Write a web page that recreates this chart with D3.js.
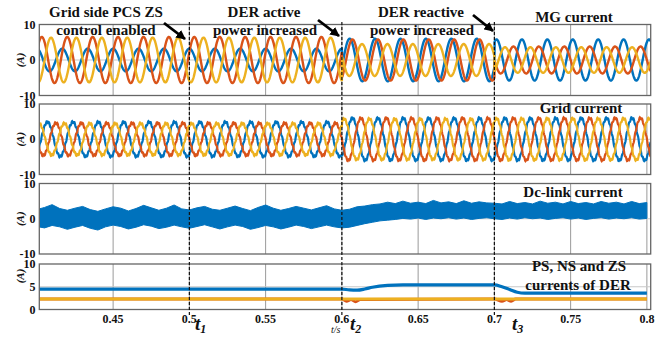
<!DOCTYPE html>
<html>
<head>
<meta charset="utf-8">
<script src="https://cdn.jsdelivr.net/npm/d3@7"></script>
<style>
    body { margin: 0; background: #fff; }
    svg text { font-family: "Liberation Serif", "Times New Roman", serif; font-weight: bold; fill: #111; }
</style>
</head>
<body>
<svg id="chart" width="671" height="337"></svg>
<script>
// ---- data ----
const xTicks = [0.45, 0.5, 0.55, 0.6, 0.65, 0.7, 0.75, 0.8];
const xTickLabels = ['0.45', '0.5', '0.55', '0.6', '0.65', '0.7', '0.75', '0.8'];
const eventTimes = [0.5, 0.6, 0.7];

// three-phase waveforms: 60 Hz, piecewise amplitude / phase per interval
const freq = 60;
const segBounds = [0.4, 0.6, 0.7, 0.8];
const phaseColors = ['#0072BD', '#D95319', '#EDB120'];

const mgAmp = [[3.2, 6.0, 5.8], [6.5, 5.8, 3.8], [6.3, 4.5, 3.6]];
const mgPhase = [[0, 110, 30], [70, 150, 270], [200, 285, 150]];

const gridAmp = [[4.9, 6.0, 6.0], [4.6, 6.0, 6.0], [4.5, 5.8, 5.9]];
const gridPhase = [[150, 150, 150], [270, 270, 270], [30, 30, 30]];
const gridRipple = [0.3, 0.3, 0.3];

// dc-link current envelope, every 5 ms from 0.400 to 0.800
const dcUpper = [2.6, 3.2, 4.0, 2.9, 2.4, 3.0, 3.5, 2.6, 2.1, 2.8, 3.4, 3.0, 2.2, 2.9, 3.8, 3.1, 2.4, 3.0, 3.9, 2.8,
    2.5, 3.1, 3.5, 2.7, 2.4, 3.0, 3.6, 2.9, 2.3, 3.2, 3.9, 3.0, 2.4, 2.9, 3.5, 3.0, 2.5, 3.1, 3.7, 2.8,
    2.4, 2.7, 3.4, 3.6, 4.0, 4.2, 4.7, 4.3, 5.0, 4.4, 4.7, 4.3, 5.2, 4.5, 4.8, 4.3, 5.1, 4.4, 4.8, 4.5,
    4.4, 4.2, 4.9, 4.3, 4.6, 4.2, 5.0, 4.4, 4.7, 4.2, 4.9, 4.3, 4.6, 4.2, 4.9, 4.4, 4.7, 4.2, 4.9, 4.3, 4.6];
const dcLower = [-2.2, -2.6, -1.9, -2.3, -3.0, -2.4, -1.9, -2.7, -3.2, -2.3, -1.8, -2.2, -2.9, -2.4, -1.7, -2.1, -2.8, -2.4, -1.8, -2.3,
    -2.7, -2.2, -1.7, -2.3, -2.9, -2.3, -1.8, -2.2, -3.0, -2.5, -1.9, -2.3, -2.9, -2.4, -1.8, -2.2, -2.8, -2.3, -1.8, -2.3,
    -2.6, -2.4, -1.9, -1.4, -1.0, -0.6, -0.4, -0.2, 0.1, -0.1, 0.2, -0.2, 0.2, 0.0, 0.3, -0.1, 0.2, -0.2, 0.1, 0.3,
    0.0, -0.2, 0.2, -0.1, 0.3, 0.0, 0.2, -0.2, 0.1, 0.3, -0.1, 0.2, -0.2, 0.1, 0.3, -0.1, 0.2, 0.0, 0.3, -0.1, 0.1];

// PS / NS / ZS currents of DER
const psTime = [0.4, 0.6, 0.605, 0.61, 0.615, 0.62, 0.63, 0.64, 0.7, 0.705, 0.71, 0.715, 0.72, 0.8];
const psValue = [4.5, 4.5, 4.3, 4.25, 4.5, 4.9, 5.3, 5.4, 5.4, 5.0, 4.4, 3.8, 3.6, 3.6];
const nsTime = [0.4, 0.6, 0.603, 0.606, 0.609, 0.612, 0.7, 0.705, 0.708, 0.711, 0.714, 0.8];
const nsValue = [2.3, 2.3, 1.8, 2.2, 1.7, 2.2, 2.3, 1.8, 2.2, 1.8, 2.3, 2.3];
const zsTime = [0.4, 0.8];
const zsValue = [2.3, 2.3];

// ---- layout ----
const svg = d3.select('#chart');
const x = d3.scaleLinear().domain([0.4016, 0.8025]).range([39.3, 650.7]);

const panels = [
    {top: 24.5, bottom: 95.5, domain: [-10, 10], ticks: [10, 0, -10]},
    {top: 104, bottom: 174.5, domain: [-10, 10], ticks: [10, 0, -10]},
    {top: 183.5, bottom: 254, domain: [-10, 10], ticks: [10, 0, -10]},
    {top: 264, bottom: 309.5, domain: [0, 10], ticks: [10, 5, 0]}
];
panels.forEach(p => p.y = d3.scaleLinear().domain(p.domain).range([p.bottom, p.top]));

let defs = svg.append('defs');
panels.forEach((p, i) => {
    defs.append('clipPath').attr('id', `clip${i}`)
        .append('rect')
            .attr('x', x.range()[0]).attr('y', p.top)
            .attr('width', x.range()[1] - x.range()[0])
            .attr('height', p.bottom - p.top);
});
defs.append('marker')
    .attr('id', 'arrow')
    .attr('viewBox', '0 0 10 10')
    .attr('refX', 9).attr('refY', 5)
    .attr('markerWidth', 3.4).attr('markerHeight', 3.4)
    .attr('orient', 'auto')
    .append('path')
        .attr('d', 'M0,0 L10,5 L0,10 z')
        .attr('fill', '#000');

// sample a three-phase waveform
function threePhase(amp, phase, ripple) {
    let series = [[], [], []];
    for (let t = 0.4; t <= 0.8026; t += 0.0002) {
        let s = t < segBounds[1] ? 0 : (t < segBounds[2] ? 1 : 2);
        let w = 2 * Math.PI * freq * (t - 0.4);
        for (let k = 0; k < 3; k++) {
            let v = amp[k][s] * Math.cos(w - phase[k][s] * Math.PI / 180);
            if (ripple) v += ripple[s] * Math.sin(11 * w + k * 2.1);
            series[k].push([t, v]);
        }
    }
    return series;
}

// frames and grid
panels.forEach((p, i) => {
    let g = svg.append('g').attr('class', `panel${i}`);

    g.selectAll('line.vgrid')
        .data(xTicks)
        .join('line')
            .attr('class', 'vgrid')
            .attr('x1', d => x(d)).attr('x2', d => x(d))
            .attr('y1', p.top).attr('y2', p.bottom)
            .attr('stroke', '#9a9a9a').attr('stroke-width', 1);

    let hLine = i < 3 ? 0 : 5;
    g.append('line')
        .attr('x1', x.range()[0]).attr('x2', x.range()[1])
        .attr('y1', p.y(hLine)).attr('y2', p.y(hLine))
        .attr('stroke', '#c8c8c8').attr('stroke-width', 1);

    g.selectAll('text.ytick')
        .data(p.ticks)
        .join('text')
            .attr('class', 'ytick')
            .attr('x', 35.5)
            .attr('y', d => p.y(d) + 4)
            .attr('text-anchor', 'end')
            .style('font-size', '12px')
            .text(d => d);

    g.append('text')
        .attr('transform', `translate(24, ${i < 3 ? (p.top + p.bottom) / 2 : 276}) rotate(-90)`)
        .attr('text-anchor', 'middle')
        .style('font-size', '11px')
        .style('font-style', 'italic')
        .text('(A)');
});

let line = d3.line().x(d => x(d[0]));

// panel 1: MG current
let mg = threePhase(mgAmp, mgPhase, null);
svg.append('g').attr('clip-path', 'url(#clip0)')
    .selectAll('path')
    .data(mg)
    .join('path')
        .attr('d', d => line.y(v => panels[0].y(v[1]))(d))
        .attr('fill', 'none')
        .attr('stroke', (d, k) => phaseColors[k])
        .attr('stroke-width', 2.4);

// panel 2: grid current
let grid = threePhase(gridAmp, gridPhase, gridRipple);
svg.append('g').attr('clip-path', 'url(#clip1)')
    .selectAll('path')
    .data(grid)
    .join('path')
        .attr('d', d => line.y(v => panels[1].y(v[1]))(d))
        .attr('fill', 'none')
        .attr('stroke', (d, k) => phaseColors[k])
        .attr('stroke-width', 2.2);

// panel 3: dc-link current band
let dcData = dcUpper.map((u, j) => ({t: 0.4 + j * 0.005, hi: u, lo: dcLower[j]}));
svg.append('g').attr('clip-path', 'url(#clip2)')
    .append('path')
        .datum(dcData)
        .attr('d', d3.area()
            .x(d => x(d.t))
            .y0(d => panels[2].y(d.lo))
            .y1(d => panels[2].y(d.hi)))
        .attr('fill', '#0072BD')
        .attr('stroke', '#0072BD')
        .attr('stroke-width', 1);

// panel 4: sequence currents
let seq = [
    {t: nsTime, v: nsValue, c: phaseColors[1], w: 3},
    {t: zsTime, v: zsValue, c: phaseColors[2], w: 3},
    {t: psTime, v: psValue, c: phaseColors[0], w: 3.2}
];
svg.append('g').attr('clip-path', 'url(#clip3)')
    .selectAll('path')
    .data(seq)
    .join('path')
        .attr('d', s => d3.line().curve(d3.curveMonotoneX)
            .x((t, j) => x(t)).y((t, j) => panels[3].y(s.v[j]))(s.t))
        .attr('fill', 'none')
        .attr('stroke', s => s.c)
        .attr('stroke-width', s => s.w);

// frames on top
panels.forEach(p => {
    svg.append('rect')
        .attr('x', x.range()[0]).attr('y', p.top)
        .attr('width', x.range()[1] - x.range()[0])
        .attr('height', p.bottom - p.top)
        .attr('fill', 'none')
        .attr('stroke', '#666').attr('stroke-width', 1.3);
});

// event lines
svg.selectAll('line.event')
    .data(eventTimes)
    .join('line')
        .attr('class', 'event')
        .attr('x1', d => x(d)).attr('x2', d => x(d))
        .attr('y1', 22).attr('y2', 315)
        .attr('stroke', '#111')
        .attr('stroke-width', 1.2)
        .attr('stroke-dasharray', '3,2');

// x tick labels
svg.selectAll('text.xtick')
    .data(xTicks)
    .join('text')
        .attr('class', 'xtick')
        .attr('x', d => x(d))
        .attr('y', 323)
        .attr('text-anchor', 'middle')
        .style('font-size', '12px')
        .text((d, i) => xTickLabels[i]);

// t1, t2, t3 markers
const tMarks = [{x: 195, y: 330, s: '1'}, {x: 350, y: 330, s: '2'}, {x: 512, y: 330, s: '3'}];
tMarks.forEach(m => {
    let t = svg.append('text')
        .attr('x', m.x).attr('y', m.y)
        .style('font-size', '19px')
        .style('font-style', 'italic');
    t.append('tspan').text('t');
    t.append('tspan').attr('dy', 3).style('font-size', '12px').text(m.s);
});
svg.append('text')
    .attr('x', 331).attr('y', 333)
    .style('font-size', '10px')
    .style('font-style', 'italic')
    .style('font-weight', 'normal')
    .text('t/s');

// annotations
const notes = [
    {x: 106, y: 17, s: 'Grid side PCS ZS'},
    {x: 106, y: 34.5, s: 'control enabled'},
    {x: 264, y: 17, s: 'DER active'},
    {x: 265, y: 34.5, s: 'power increased'},
    {x: 421, y: 17, s: 'DER reactive'},
    {x: 422, y: 34.5, s: 'power increased'},
    {x: 574, y: 22, s: 'MG current'},
    {x: 581, y: 113, s: 'Grid current'},
    {x: 573, y: 197, s: 'Dc-link current'},
    {x: 579, y: 271, s: 'PS, NS and ZS'},
    {x: 578, y: 290, s: 'currents of DER'}
];
svg.selectAll('text.note')
    .data(notes)
    .join('text')
        .attr('class', 'note')
        .attr('x', d => d.x).attr('y', d => d.y)
        .attr('text-anchor', 'middle')
        .style('font-size', '15px')
        .text(d => d.s);

const arrows = [
    {x1: 164, y1: 23, x2: 185, y2: 39},
    {x1: 318, y1: 20, x2: 339, y2: 36},
    {x1: 473, y1: 15, x2: 493, y2: 31}
];
svg.selectAll('line.arrow')
    .data(arrows)
    .join('line')
        .attr('class', 'arrow')
        .attr('x1', d => d.x1).attr('y1', d => d.y1)
        .attr('x2', d => d.x2).attr('y2', d => d.y2)
        .attr('stroke', '#000')
        .attr('stroke-width', 2.8)
        .attr('marker-end', 'url(#arrow)');
</script>
</body>
</html>
